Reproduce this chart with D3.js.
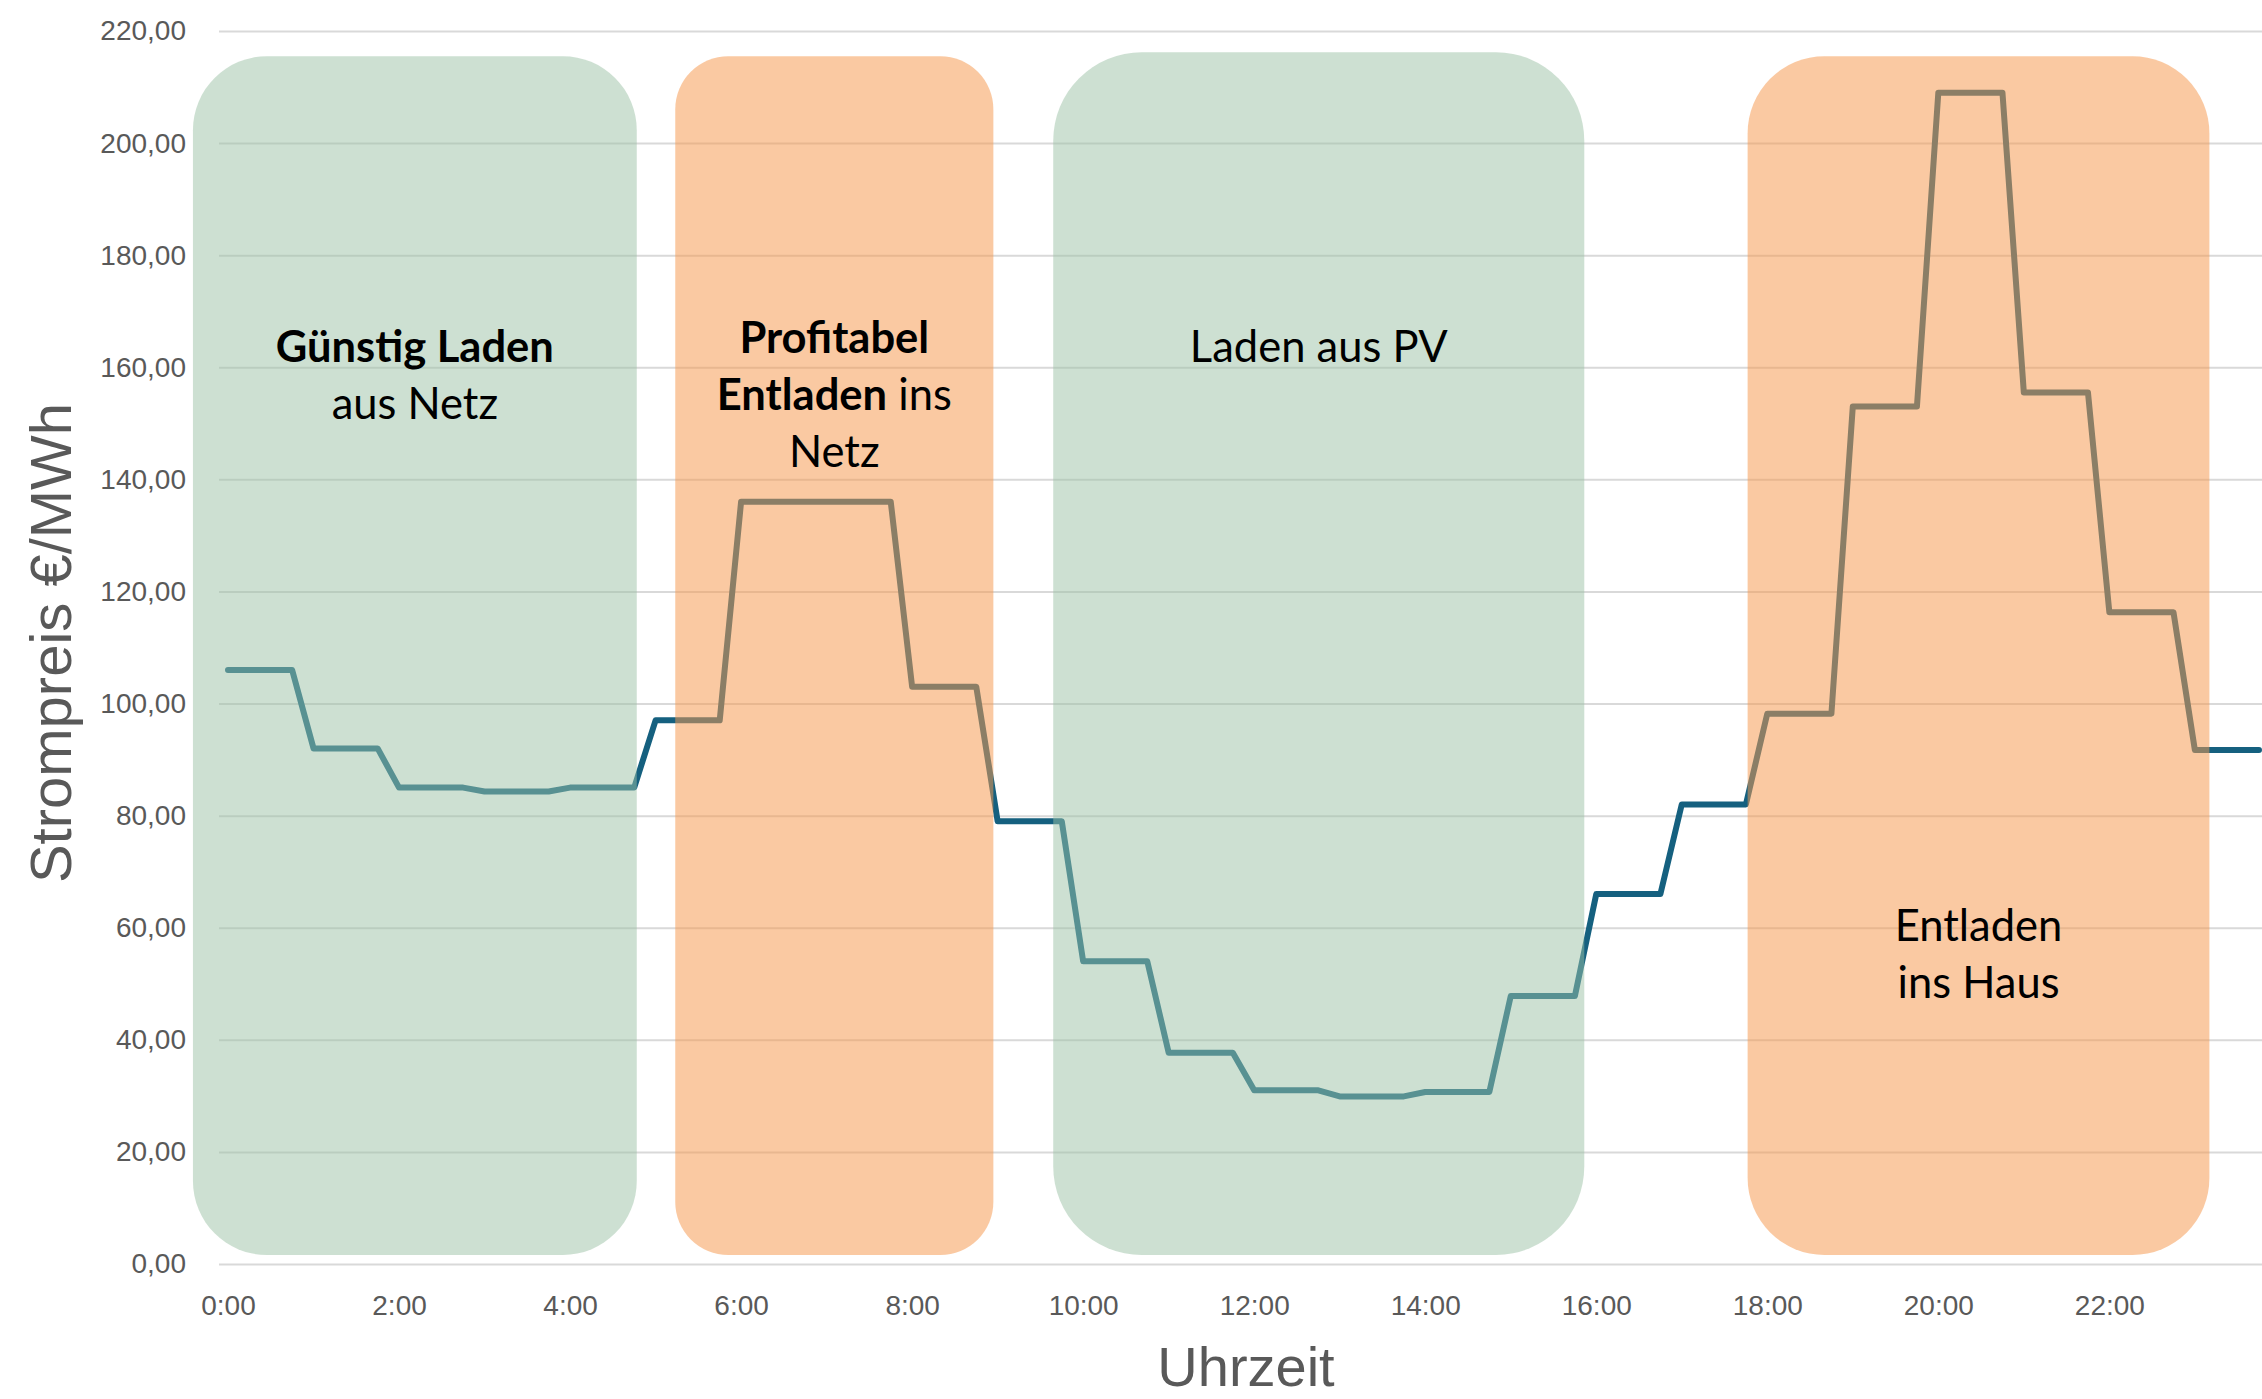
<!DOCTYPE html>
<html>
<head>
<meta charset="utf-8">
<script src="https://cdn.jsdelivr.net/npm/d3@7"></script>
<style>
  body { margin: 0; background: #fff; }
  .tick text { font-family: "Liberation Sans", Arial, sans-serif; fill: #595959; }
</style>
</head>
<body>
<script>
// Strompreis je Viertelstunde in €/MWh, 0:00 bis 23:45
var prices = [
  106, 106, 106, 106,
  92, 92, 92, 92,
  85, 85, 85, 85,
  84.3, 84.3, 84.3, 84.3,
  85, 85, 85, 85,
  97, 97, 97, 97,
  136, 136, 136, 136,
  136, 136, 136, 136,
  103, 103, 103, 103,
  79, 79, 79, 79,
  54, 54, 54, 54,
  37.7, 37.7, 37.7, 37.7,
  31, 31, 31, 31,
  29.9, 29.9, 29.9, 29.9,
  30.7, 30.7, 30.7, 30.7,
  47.8, 47.8, 47.8, 47.8,
  66, 66, 66, 66,
  82, 82, 82, 82,
  98.2, 98.2, 98.2, 98.2,
  153, 153, 153, 153,
  209, 209, 209, 209,
  155.5, 155.5, 155.5, 155.5,
  116.3, 116.3, 116.3, 116.3,
  91.7, 91.7, 91.7, 91.7
];

var tickHours = [0, 2, 4, 6, 8, 10, 12, 14, 16, 18, 20, 22];
var tickLabels = ["0:00", "2:00", "4:00", "6:00", "8:00", "10:00", "12:00", "14:00", "16:00", "18:00", "20:00", "22:00"];
var priceTicks = [0, 20, 40, 60, 80, 100, 120, 140, 160, 180, 200, 220];

// Zeitfenster der Speicherstrategie (Stunden)
var bandFrom = [-0.41, 5.23, 9.65, 17.77];
var bandTo   = [4.78, 8.95, 15.86, 23.17];
var bandKind = ["laden", "entladen", "laden", "entladen"];

// Beschriftungen je Fenster: Zeilen aus [Text, fett]
var bandNotes = [
  [[["Günstig Laden", true]], [["aus Netz", false]]],
  [[["Profitabel", true]], [["Entladen", true], [" ins", false]], [["Netz", false]]],
  [[["Laden aus PV", false]]],
  [[["Entladen", false]], [["ins Haus", false]]]
];

var W = 2262, H = 1399;

var svg = d3.select("body").append("svg")
  .attr("width", W)
  .attr("height", H);

var x = d3.scaleLinear().domain([0, 23.75]).range([228, 2259]);
var y = d3.scaleLinear().domain([0, 220]).range([1264, 31]);

var de = d3.formatLocale({decimal: ",", thousands: ".", grouping: [3], currency: ["", " €"]});
var fmt = de.format(".2f");

// Gitterlinien + Y-Beschriftung
var yAxis = svg.append("g")
  .attr("transform", "translate(219,0)")
  .call(d3.axisLeft(y).tickValues(priceTicks).tickFormat(fmt)
    .tickSize(-(W - 219)).tickPadding(33));
yAxis.select(".domain").remove();
yAxis.selectAll(".tick line").attr("stroke", "#d9d9d9").attr("stroke-width", 2);
yAxis.selectAll(".tick text").style("font-size", "28px");

var xAxis = svg.append("g")
  .attr("transform", "translate(0,1264)")
  .call(d3.axisBottom(x).tickValues(tickHours)
    .tickFormat(function(d, i) { return tickLabels[i]; })
    .tickSize(0).tickPadding(31));
xAxis.select(".domain").remove();
xAxis.selectAll(".tick text").style("font-size", "28px");

// Preislinie
var line = d3.line()
  .x(function(d, i) { return x(i / 4); })
  .y(function(d) { return y(d); });

svg.append("path")
  .datum(prices)
  .attr("d", line)
  .attr("fill", "none")
  .attr("stroke", "#15607f")
  .attr("stroke-width", 6)
  .attr("stroke-linejoin", "round")
  .attr("stroke-linecap", "round");

// halbtransparente Fenster darüber
var bandTop = y(215.5), bandBottom = y(1.6);
svg.selectAll("rect.band")
  .data(bandFrom)
  .enter()
  .append("rect")
  .attr("class", "band")
  .attr("x", function(d) { return x(d); })
  .attr("y", function(d, i) { return i == 2 ? bandTop - 4 : bandTop; })
  .attr("width", function(d, i) { return x(bandTo[i]) - x(d); })
  .attr("height", function(d, i) { return bandBottom - (i == 2 ? bandTop - 4 : bandTop); })
  .attr("rx", function(d, i) {
    var w = x(bandTo[i]) - x(d);
    return Math.min(w, bandBottom - bandTop) / 6;
  })
  .attr("fill", function(d, i) { return bandKind[i] == "laden" ? "#9bc1a5" : "#f5994f"; })
  .attr("fill-opacity", function(d, i) { return bandKind[i] == "laden" ? 0.5 : 0.53; });

// Texte in den Fenstern
var noteBaseline = [362, 353, 362, 941];
var lineGap = 57;

bandNotes.forEach(function(lines, i) {
  var cx = x((bandFrom[i] + bandTo[i]) / 2);
  var t = svg.append("text")
    .attr("text-anchor", "middle")
    .style("font-family", "Lato, 'Noto Sans', sans-serif")
    .style("font-size", "43.5px")
    .attr("fill", "#000");
  lines.forEach(function(parts, j) {
    var ln = t.append("tspan")
      .attr("x", cx)
      .attr("y", noteBaseline[i] + j * lineGap);
    parts.forEach(function(p) {
      ln.append("tspan")
        .style("font-weight", p[1] ? "bold" : "normal")
        .text(p[0]);
    });
  });
});

// Achsentitel
svg.append("text")
  .attr("transform", "translate(71,643) rotate(-90)")
  .attr("text-anchor", "middle")
  .style("font-family", "'Liberation Sans', Arial, sans-serif")
  .style("font-size", "58px")
  .attr("fill", "#595959")
  .text("Strompreis €/MWh");

svg.append("text")
  .attr("x", 1246)
  .attr("y", 1386)
  .attr("text-anchor", "middle")
  .style("font-family", "'Liberation Sans', Arial, sans-serif")
  .style("font-size", "56px")
  .attr("fill", "#595959")
  .text("Uhrzeit");
</script>
</body>
</html>
